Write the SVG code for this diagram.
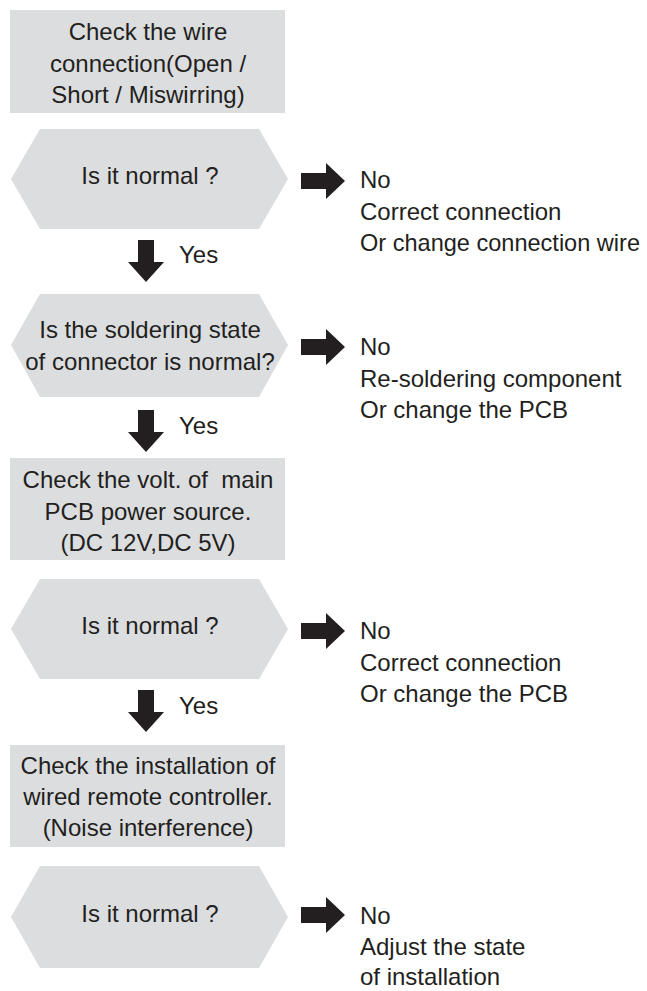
<svg xmlns="http://www.w3.org/2000/svg" xmlns:xlink="http://www.w3.org/1999/xlink" width="647" height="991" viewBox="0 0 647 991">
<style>
.box{fill:#dcdddf;stroke:none}
.t{font-family:"Liberation Sans",Arial,sans-serif;font-size:24px;fill:#231f20}
.c{text-anchor:middle}
.arr{fill:#231f20}
</style>
<defs>
<path id="ar" d="M0,-8 H25 V-18 L44,0 L25,18 V8 H0 Z"/>
<path id="ad" d="M-8,0 V22 H-18 L0,42 L18,22 H8 V0 Z"/>
</defs>
<rect width="647" height="991" fill="#ffffff"/>

<g id="box1">
<rect class="box" x="10" y="10" width="275" height="103"/>
<text class="t c" x="148" y="40">Check the wire</text>
<text class="t c" x="148" y="72">connection(Open /</text>
<text class="t c" x="148" y="103">Short / Miswirring)</text>
</g>

<g id="dec1">
<polygon class="box" points="11,179 40,129 259,129 288,179 259,229 40,229"/>
<text class="t c" x="150" y="184">Is it normal ?</text>
</g>
<g id="no1">
<text class="t" x="360" y="188">No</text>
<text class="t" x="360" y="220">Correct connection</text>
<text class="t" x="360" y="251" textLength="280" lengthAdjust="spacingAndGlyphs">Or change connection wire</text>
</g>

<g id="dec2">
<polygon class="box" points="11,345 40,294 259,294 288,345 259,397 40,397"/>
<text class="t c" x="150" y="338">Is the soldering state</text>
<text class="t c" x="150" y="370">of connector is normal?</text>
</g>
<g id="no2">
<text class="t" x="360" y="355">No</text>
<text class="t" x="360" y="387">Re-soldering component</text>
<text class="t" x="360" y="418">Or change the PCB</text>
</g>

<g id="box2">
<rect class="box" x="10" y="458" width="275" height="102"/>
<text class="t c" x="148" y="488" xml:space="preserve">Check the volt. of  main</text>
<text class="t c" x="148" y="520">PCB power source.</text>
<text class="t c" x="148" y="551">(DC 12V,DC 5V)</text>
</g>

<g id="dec3">
<polygon class="box" points="11,629 40,579 259,579 288,629 259,679 40,679"/>
<text class="t c" x="150" y="634">Is it normal ?</text>
</g>
<g id="no3">
<text class="t" x="360" y="639">No</text>
<text class="t" x="360" y="671">Correct connection</text>
<text class="t" x="360" y="702">Or change the PCB</text>
</g>

<g id="box3">
<rect class="box" x="10" y="745" width="275" height="102"/>
<text class="t c" x="148" y="774">Check the installation of</text>
<text class="t c" x="148" y="805">wired remote controller.</text>
<text class="t c" x="148" y="836">(Noise interference)</text>
</g>

<g id="dec4">
<polygon class="box" points="11,917 40,866 259,866 288,917 259,968 40,968"/>
<text class="t c" x="150" y="922">Is it normal ?</text>
</g>
<g id="no4">
<text class="t" x="360" y="924">No</text>
<text class="t" x="360" y="955">Adjust the state</text>
<text class="t" x="360" y="985">of installation</text>
</g>

<g id="connectors" class="arr">
<use xlink:href="#ar" transform="translate(301,181)"/>
<use xlink:href="#ar" transform="translate(301,347)"/>
<use xlink:href="#ar" transform="translate(301,631)"/>
<use xlink:href="#ar" transform="translate(301,915)"/>
<use xlink:href="#ad" transform="translate(146,240)"/>
<use xlink:href="#ad" transform="translate(146,410)"/>
<use xlink:href="#ad" transform="translate(146,690)"/>
</g>
<g id="yes-labels">
<text class="t" x="179" y="263">Yes</text>
<text class="t" x="179" y="434">Yes</text>
<text class="t" x="179" y="714">Yes</text>
</g>
</svg>
